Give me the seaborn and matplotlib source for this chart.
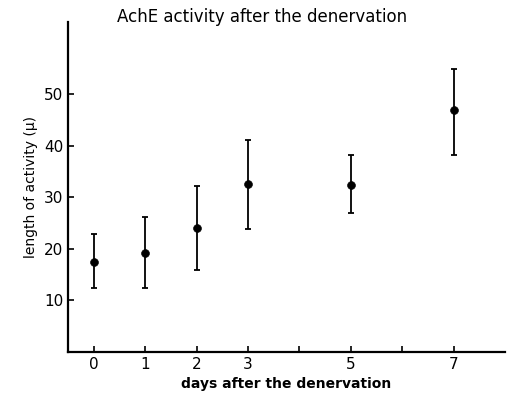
import numpy as np
import pandas as pd
import matplotlib
matplotlib.use('Agg')
import matplotlib.pyplot as plt
import seaborn as sns

# values
days = [0, 1, 2, 3, 5, 7]
mean_len = [17.5, 19.2, 24.1, 32.6, 32.4, 46.9]
upper = [22.9, 26.2, 32.1, 41.2, 38.2, 54.9]
lower = [12.4, 12.4, 15.9, 23.9, 27.0, 38.2]

df = pd.DataFrame({'day': days, 'length': mean_len, 'hi': upper, 'lo': lower})

sns.set_style('ticks')
plt.rcParams['font.family'] = ['DejaVu Sans']
plt.rcParams['text.color'] = 'black'
plt.rcParams['axes.labelcolor'] = 'black'

fig = plt.figure(figsize=(5.08, 3.94), dpi=100)
ax = fig.add_axes([0.134, 0.107, 0.86, 0.837])

yerr = np.array([df['length'] - df['lo'], df['hi'] - df['length']])
ax.errorbar(df['day'], df['length'], yerr=yerr, fmt='none', ecolor='black',
            elinewidth=1.3, capsize=2.5, capthick=1.3)
sns.scatterplot(data=df, x='day', y='length', color='black', s=32,
                edgecolor='black', ax=ax, zorder=3)

ax.set_xlim(-0.5, 8.0)
ax.set_ylim(0, 64)
ax.set_xticks([0, 1, 2, 3, 4, 5, 6, 7])
ax.set_xticklabels(['0', '1', '2', '3', '', '5', '', '7'])
ax.set_yticks([10, 20, 30, 40, 50])
ax.tick_params(direction='in', length=4, width=1.2, labelsize=11, colors='black')
ax.tick_params(axis='x', pad=4)

for side in ['top', 'right']:
    ax.spines[side].set_visible(False)
for side in ['left', 'bottom']:
    ax.spines[side].set_linewidth(1.6)
    ax.spines[side].set_color('black')

ax.set_xlabel('days after the denervation', fontsize=10, fontweight='bold', labelpad=3)
ax.set_ylabel('length of activity (μ)', fontsize=10, labelpad=4)
fig.text(0.516, 0.943, 'AchE activity after the denervation', ha='center', fontsize=12)

fig.savefig('out.png', dpi=100)
